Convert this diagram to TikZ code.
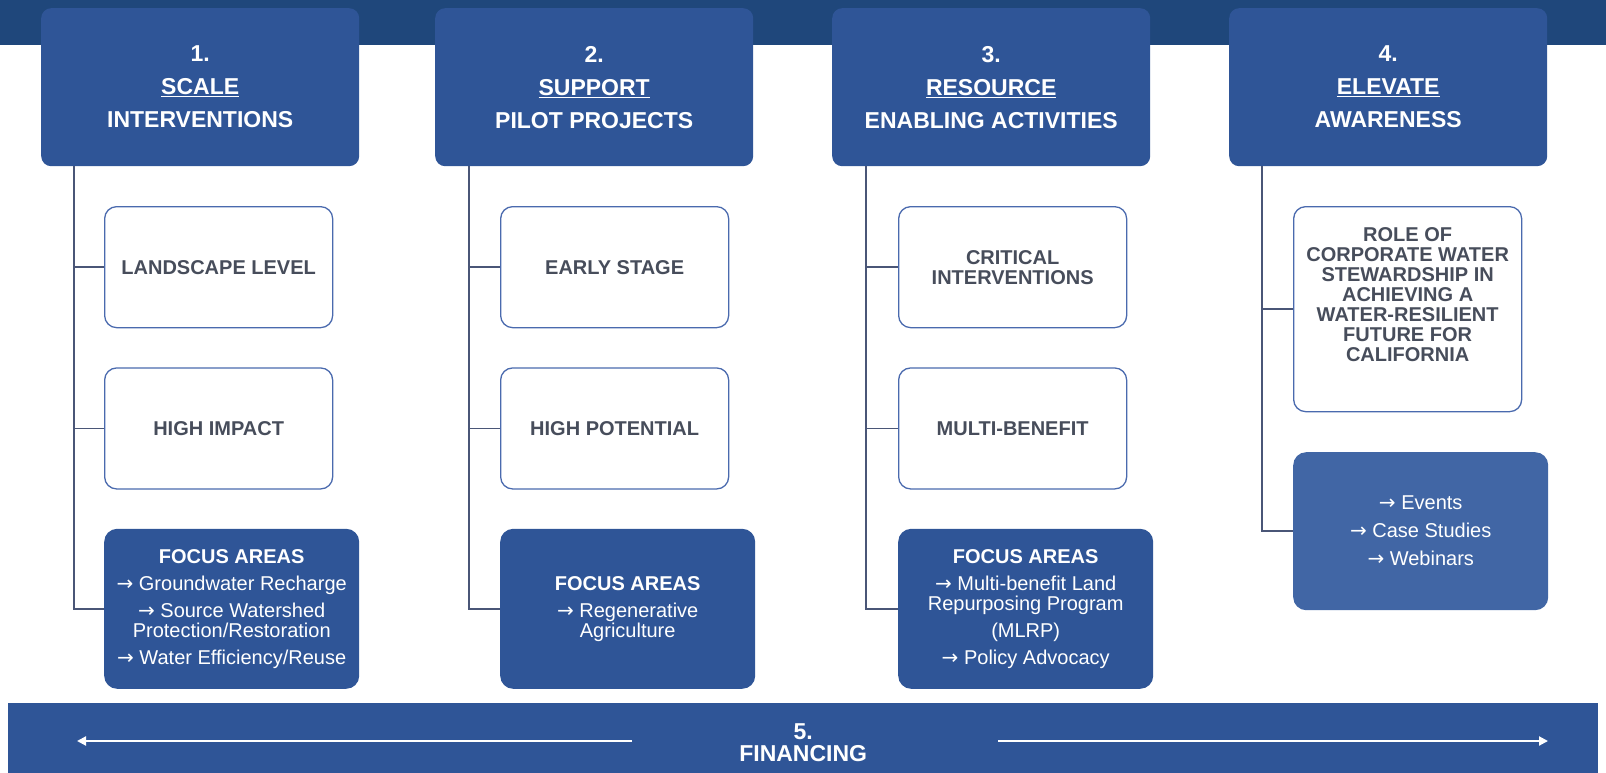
\documentclass[tikz,border=0pt]{standalone}
\usepackage{fontspec}
\setmainfont{Liberation Sans}
\newfontfamily\arrowfont{DejaVu Sans}
\newcommand\itemarrow{{\arrowfont\char"2192}}
\usetikzlibrary{positioning,arrows.meta}

\definecolor{navy}{HTML}{1F477B}
\definecolor{hdrblue}{HTML}{2F5597}
\definecolor{softblue}{HTML}{4166A5}
\definecolor{leafline}{HTML}{4A6AAE}
\definecolor{leaftext}{HTML}{474D5B}
\definecolor{connline}{HTML}{4A5677}

\begin{document}
\begin{tikzpicture}[x=1pt, y=-1pt, node distance=39pt,
            every node/.style={inner sep=0pt, align=center},
            hdr/.style={fill=hdrblue, rounded corners=10pt, minimum width=318pt,
                minimum height=158pt, text=white, font=\fontsize{23}{33}\selectfont\bfseries},
            leaf/.style={draw=leafline, line width=1.3pt, fill=white, rounded corners=12pt,
                minimum width=228pt, minimum height=121pt, text=leaftext,
                font=\fontsize{20}{20}\selectfont\bfseries},
            focus/.style={fill=hdrblue, rounded corners=13pt, minimum width=255pt,
                minimum height=160pt, text=white, font=\fontsize{20}{20}\selectfont},
            conn/.style={draw=connline, line width=1.5pt},
            finarrow/.style={draw=white, line width=2pt, -{Triangle[length=9pt,width=9pt]}}]
        \useasboundingbox (0,0) rectangle (1606,773);
        \fill[navy] (0,0) rectangle (1606,45);

        \node[hdr, anchor=north west] (h1) at (41,8) {1.\\\underline{SCALE}\\INTERVENTIONS};
        \node[hdr, anchor=north west] (h2) at (435,8) {2.\\\underline{SUPPORT}\\PILOT PROJECTS};
        \node[hdr, anchor=north west] (h3) at (832,8) {3.\\\underline{RESOURCE}\\ENABLING ACTIVITIES};
        \node[hdr, anchor=north west] (h4) at (1229,8) {4.\\\underline{ELEVATE}\\AWARENESS};

        \node[leaf, anchor=north west] (l1a) at (104,206) {LANDSCAPE LEVEL};
        \node[leaf, below=of l1a] (l1b) {HIGH IMPACT};
        \node[focus, below=of l1b.south west, anchor=north west] (f1)
            {\textbf{FOCUS AREAS}\\[7pt]\itemarrow\ Groundwater Recharge\\[7pt]\itemarrow\ Source Watershed\\Protection/Restoration\\[7pt]\itemarrow\ Water Efficiency/Reuse};

        \node[leaf, anchor=north west] (l2a) at (500,206) {EARLY STAGE};
        \node[leaf, below=of l2a] (l2b) {HIGH POTENTIAL};
        \node[focus, below=of l2b.south west, anchor=north west] (f2)
            {\textbf{FOCUS AREAS}\\[7pt]\itemarrow\ Regenerative\\Agriculture};

        \node[leaf, anchor=north west] (l3a) at (898,206) {CRITICAL\\INTERVENTIONS};
        \node[leaf, below=of l3a] (l3b) {MULTI-BENEFIT};
        \node[focus, below=of l3b.south west, anchor=north west] (f3)
            {\textbf{FOCUS AREAS}\\[7pt]\itemarrow\ Multi-benefit Land\\Repurposing Program\\[7pt](MLRP)\\[7pt]\itemarrow\ Policy Advocacy};

        \node[leaf, anchor=north west, minimum height=205pt] (l4a) at (1293,206) {};
        \node[text=leaftext, font=\fontsize{20}{20}\selectfont\bfseries, yshift=15pt] (l4t) at (l4a)
            {ROLE OF\\CORPORATE WATER\\STEWARDSHIP IN\\ACHIEVING A\\WATER-RESILIENT\\FUTURE FOR\\CALIFORNIA};
        \node[focus, fill=softblue, anchor=north west, minimum height=158pt] (f4) at (1293,452)
            {\itemarrow\ Events\\[8pt]\itemarrow\ Case Studies\\[8pt]\itemarrow\ Webinars};

        \coordinate (t1) at (74,166);
        \coordinate (t2) at (469,166);
        \coordinate (t3) at (866,166);
        \coordinate (t4) at (1262,166);
        \draw[conn] (t1) |- (l1a.west);
        \draw[conn] (t1) |- (l1b.west);
        \draw[conn] (t1) |- (f1.west);
        \draw[conn] (t2) |- (l2a.west);
        \draw[conn] (t2) |- (l2b.west);
        \draw[conn] (t2) |- (f2.west);
        \draw[conn] (t3) |- (l3a.west);
        \draw[conn] (t3) |- (l3b.west);
        \draw[conn] (t3) |- (f3.west);
        \draw[conn] (t4) |- (l4a.west);
        \draw[conn] (t4) |- (f4.west);

        \node[fill=hdrblue, anchor=north west, minimum width=1590pt, minimum height=78pt,
            text=white, font=\fontsize{23}{22}\selectfont\bfseries] (fin) at (8,703) {5.\\FINANCING};
        \coordinate (al) at (632,741);
        \coordinate (alt) at (77,741);
        \coordinate (ar) at (998,741);
        \coordinate (art) at (1548,741);
        \draw[finarrow] (al) -- (alt);
        \draw[finarrow] (ar) -- (art);
\end{tikzpicture}
\end{document}
